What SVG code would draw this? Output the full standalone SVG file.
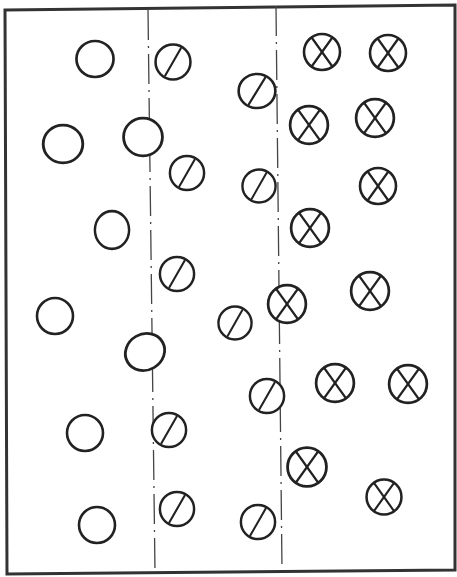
<svg xmlns="http://www.w3.org/2000/svg" xmlns:xlink="http://www.w3.org/1999/xlink" width="457" height="577" viewBox="0 0 457 577">
<style>
.c{fill:#fff;stroke:#222;stroke-width:2.6}
.m{fill:none;stroke:#222;stroke-width:2.2;stroke-linecap:round}
.frame{fill:none;stroke:#333;stroke-width:3}
.axis{fill:none;stroke:#444;stroke-width:1.3;stroke-dasharray:30 6 2 6}
</style>
<defs>
<g id="plain"><circle class="c" r="18"/></g>
<g id="slash"><circle class="c" r="18"/><line class="m" x1="-8" y1="14" x2="8" y2="-14"/></g>
<g id="cross"><circle class="c" r="18"/><line class="m" x1="-10" y1="-14" x2="10" y2="14"/><line class="m" x1="10" y1="-14" x2="-10" y2="14"/></g>
</defs>
<rect width="457" height="577" fill="#fff"/>
<polygon class="frame" points="5,10 455,5 455,570 7,574"/>
<g id="connectors">
<line class="axis" x1="148" y1="10" x2="155" y2="572"/>
<line class="axis" x1="276" y1="6" x2="282" y2="570"/>
</g>
<g id="p1"><use xlink:href="#plain" transform="translate(95,59) scale(1.03,1)"/></g>
<g id="p2"><use xlink:href="#plain" transform="translate(63,144) scale(1.1,1.05)"/></g>
<g id="p3"><use xlink:href="#plain" transform="translate(143,137) scale(1.08,1.05)"/></g>
<g id="p4"><use xlink:href="#plain" transform="translate(112,230) scale(0.95,1.05)"/></g>
<g id="p5"><use xlink:href="#plain" transform="translate(55,316) scale(1,1)"/></g>
<g id="p6"><use xlink:href="#plain" transform="translate(145,352) rotate(-30) scale(1.12,1)"/></g>
<g id="p7"><use xlink:href="#plain" transform="translate(85,433) scale(1,1)"/></g>
<g id="p8"><use xlink:href="#plain" transform="translate(97,525) scale(1,1)"/></g>
<g id="s1"><use xlink:href="#slash" transform="translate(173,62) scale(0.97)"/></g>
<g id="s2"><use xlink:href="#slash" transform="translate(187,173) scale(0.95)"/></g>
<g id="s3"><use xlink:href="#slash" transform="translate(177,274) scale(0.95)"/></g>
<g id="s4"><use xlink:href="#slash" transform="translate(257,91) scale(1.02,0.95)"/></g>
<g id="s5"><use xlink:href="#slash" transform="translate(259,186) scale(0.92)"/></g>
<g id="s6"><use xlink:href="#slash" transform="translate(235,323) scale(0.92)"/></g>
<g id="s7"><use xlink:href="#slash" transform="translate(169,430) scale(0.95)"/></g>
<g id="s8"><use xlink:href="#slash" transform="translate(177,509) scale(0.95)"/></g>
<g id="s9"><use xlink:href="#slash" transform="translate(267,396) scale(0.95)"/></g>
<g id="s10"><use xlink:href="#slash" transform="translate(258,522) scale(0.95)"/></g>
<g id="x1"><use xlink:href="#cross" transform="translate(322,52) scale(1)"/></g>
<g id="x2"><use xlink:href="#cross" transform="translate(388,53) scale(1)"/></g>
<g id="x3"><use xlink:href="#cross" transform="translate(309,125) scale(1.05)"/></g>
<g id="x4"><use xlink:href="#cross" transform="translate(375,118) scale(1.05)"/></g>
<g id="x5"><use xlink:href="#cross" transform="translate(378,186) scale(1)"/></g>
<g id="x6"><use xlink:href="#cross" transform="translate(310,228) scale(1.05)"/></g>
<g id="x7"><use xlink:href="#cross" transform="translate(287,304) scale(1.05)"/></g>
<g id="x8"><use xlink:href="#cross" transform="translate(370,291) scale(1.05)"/></g>
<g id="x9"><use xlink:href="#cross" transform="translate(335,383) scale(1.05)"/></g>
<g id="x10"><use xlink:href="#cross" transform="translate(408,384) scale(1.05)"/></g>
<g id="x11"><use xlink:href="#cross" transform="translate(307,467) scale(1.08)"/></g>
<g id="x12"><use xlink:href="#cross" transform="translate(384,497) scale(0.97)"/></g>
</svg>
